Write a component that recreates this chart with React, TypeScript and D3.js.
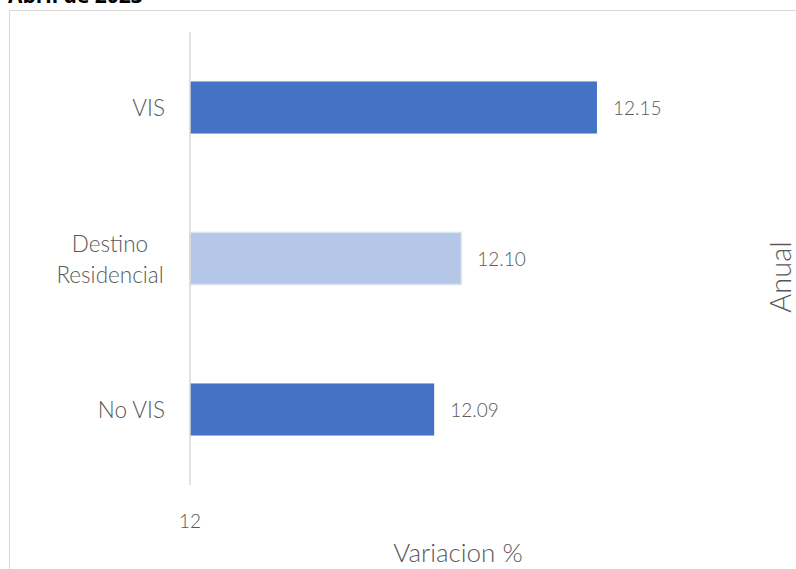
import React from "react";
import * as d3 from "d3";

const categories = ["VIS", "Destino Residencial", "No VIS"];
const values = [12.15, 12.1, 12.09];
const barColors = ["#4472C4", "#B4C7E7", "#4472C4"];
const tickValues = [12];

export default function App() {
  const W = 796, H = 569;
  const x = d3.scaleLinear().domain([12, 12.2]).range([190, 190 + 0.2 * 2713]);
  const y = d3.scaleBand().domain(categories).range([32, 485]).paddingInner(0.655).paddingOuter(0.3275);
  const font = "Lato, 'Open Sans', sans-serif";
  const txt = "#595959";
  return (
    <svg width={W} height={H} style={{ position: "absolute", left: 0, top: 0, background: "#fff" }} fontFamily={font}>
      <text x={8} y={3} fontSize={21} fontWeight={700} fill="#000" fontFamily="'Open Sans', sans-serif">Abril de 2023</text>
      <rect x={9.5} y={10.5} width={900} height={700} fill="none" stroke="#D9D9D9" strokeWidth={1} />
      {categories.map((c, i) => (
        <rect key={c} x={x(12)} y={y(c)} width={x(values[i]) - x(12)} height={y.bandwidth()}
          fill={barColors[i]} stroke={i === 1 ? "#DAE3F3" : "none"} strokeWidth={1.5} />
      ))}
      <line x1={x(12)} x2={x(12)} y1={32} y2={485} stroke="#D9D9D9" strokeWidth={1.5} />
      {categories.map((c, i) => {
        const cy = y(c)! + y.bandwidth() / 2;
        const lines = c === "Destino Residencial" ? ["Destino", "Residencial"] : [c];
        const multi = lines.length > 1;
        return (
          <g key={"l" + c}>
            {lines.map((ln, j) => (
              <text key={ln} x={multi ? 110 : 165} y={cy + (j - (lines.length - 1) / 2) * 31}
                textAnchor={multi ? "middle" : "end"} dominantBaseline="central"
                fontSize={22.5} fontWeight={300} fill={txt}>{ln}</text>
            ))}
            <text x={x(values[i]) + 16} y={cy} dominantBaseline="central" fontSize={19} fontWeight={300} fill={txt}>
              {values[i].toFixed(2)}
            </text>
          </g>
        );
      })}
      {tickValues.map((t) => (
        <text key={t} x={x(t)} y={520} textAnchor="middle" dominantBaseline="central" fontSize={19} fontWeight={300} fill={txt}>{t}</text>
      ))}
      <text x={458} y={552} textAnchor="middle" dominantBaseline="central" fontSize={26} fontWeight={300} fill={txt}>Variacion %</text>
      <text transform="translate(779,277) rotate(-90)" textAnchor="middle" dominantBaseline="central" fontSize={29} fontWeight={300} fill={txt}>Anual</text>
    </svg>
  );
}
